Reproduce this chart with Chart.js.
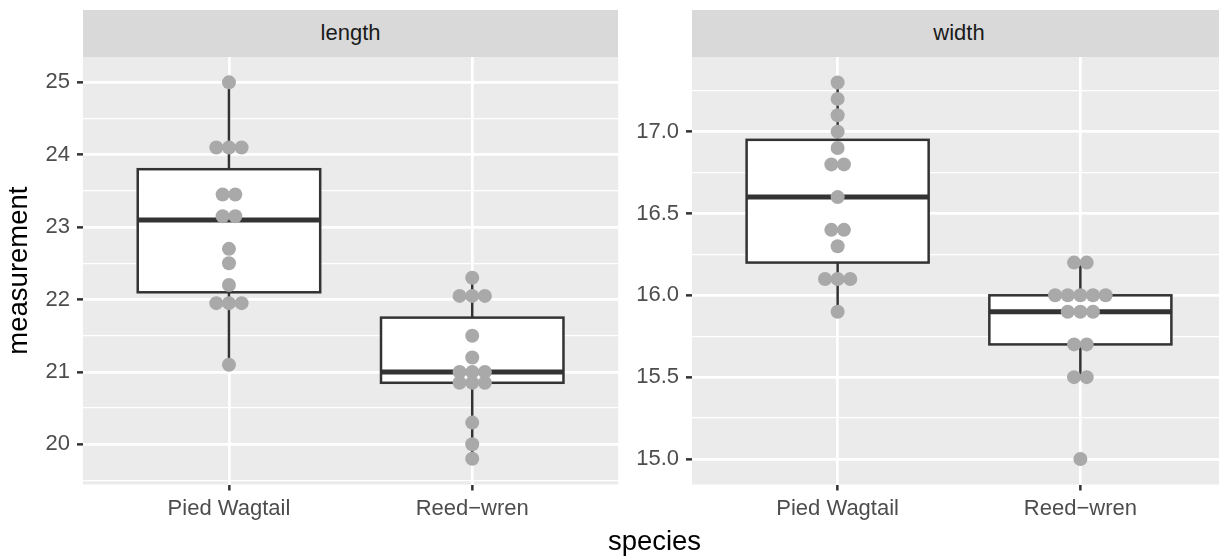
<!DOCTYPE html>
<html>
<head>
<meta charset="utf-8">
<script src="https://cdn.jsdelivr.net/npm/chart.js@4.4.1/dist/chart.umd.min.js"></script>
<style>
  html, body { margin: 0; padding: 0; background: #fff; }
  body { width: 1219px; height: 556px; overflow: hidden; position: relative; }
  canvas { position: absolute; top: 0; }
  .strip {
    position: absolute; top: 10px; height: 46.7px;
    font: 22px/46.7px "Liberation Sans", Arial, sans-serif;
    background: #D9D9D9; color: #1A1A1A; text-align: center;
  }
  .xtitle {
    position: absolute; top: 527px; left: 554.5px; width: 200px; text-align: center;
    font: 27.5px/27.5px "Liberation Sans", Arial, sans-serif; color: #000;
  }
</style>
</head>
<body>
<canvas id="lengthChart" width="640" height="556" style="left:0"></canvas>
<canvas id="widthChart" width="620" height="556" style="left:620px"></canvas>
<div class="strip" style="left:83px; width:535.2px">length</div>
<div class="strip" style="left:692px; width:534px">width</div>
<div class="xtitle">species</div>
<script>
  'use strict'

  // ---------------------------------------------------------------------------
  // DATA
  // ---------------------------------------------------------------------------

  const SPECIES = ['Pied Wagtail', 'Reed\u2212wren']

  // individual measurements (dotplot bin centres)
  const LENGTH_PIED = [25, 24.1, 24.1, 24.1, 23.45, 23.45, 23.15, 23.15, 22.7, 22.5, 22.2, 21.95, 21.95, 21.95, 21.1]
  const LENGTH_REED = [22.3, 22.05, 22.05, 22.05, 21.5, 21.2, 21.0, 21.0, 21.0, 20.85, 20.85, 20.85, 20.3, 20.0, 19.8]
  const WIDTH_PIED = [17.3, 17.2, 17.1, 17.0, 16.9, 16.8, 16.8, 16.6, 16.4, 16.4, 16.3, 16.1, 16.1, 16.1, 15.9]
  const WIDTH_REED = [16.2, 16.2, 16.0, 16.0, 16.0, 16.0, 16.0, 15.9, 15.9, 15.9, 15.7, 15.7, 15.5, 15.5, 15.0]

  // boxplot stats: [lower whisker, Q1, median, Q3, upper whisker]
  const LENGTH_BOX = [[21.1, 22.1, 23.1, 23.8, 25.0], [19.8, 20.85, 21.0, 21.75, 22.3]]
  const WIDTH_BOX = [[15.9, 16.2, 16.6, 16.95, 17.3], [15.5, 15.7, 15.9, 16.0, 16.2]]

  // axis ticks
  const LENGTH_MAJOR = [20, 21, 22, 23, 24, 25]
  const LENGTH_MINOR = [19.5, 20.5, 21.5, 22.5, 23.5, 24.5]
  const WIDTH_MAJOR = [15.0, 15.5, 16.0, 16.5, 17.0]
  const WIDTH_MINOR = [15.25, 15.75, 16.25, 16.75, 17.25]

  // ---------------------------------------------------------------------------
  // STYLE
  // ---------------------------------------------------------------------------

  const FONT = '"Liberation Sans", Arial, sans-serif'
  const DOT_COLOR = '#A9A9A9'
  const LINE_COLOR = '#333333'
  const BOX_WIDTH = 0.75
  const DOT_STEP = 0.052

  // ---------------------------------------------------------------------------
  // HELPERS
  // ---------------------------------------------------------------------------

  // centre-stacked dot positions, one stack per repeated value
  function dotPoints(values, cat) {
    const counts = {}
    for (const v of values) counts[v] = (counts[v] || 0) + 1
    const pts = []
    for (const key of Object.keys(counts)) {
      const n = counts[key]
      for (let k = 0; k < n; k++) {
        pts.push({ x: cat + (k - (n - 1) / 2) * DOT_STEP, y: Number(key) })
      }
    }
    return pts
  }

  const panelBg = {
    id: 'panelBg',
    beforeDraw(chart) {
      const { ctx, chartArea: a } = chart
      ctx.save()
      ctx.fillStyle = '#EBEBEB'
      ctx.fillRect(a.left, a.top, a.right - a.left, a.bottom - a.top)
      ctx.restore()
    },
  }

  function boxPlugin(stats) {
    return {
      id: 'boxes',
      beforeDatasetsDraw(chart) {
        const { ctx } = chart
        const xs = chart.scales.x
        const ys = chart.scales.y
        ctx.save()
        ctx.strokeStyle = LINE_COLOR
        stats.forEach((s, i) => {
          const cx = xs.getPixelForValue(i + 1)
          const x0 = xs.getPixelForValue(i + 1 - BOX_WIDTH / 2)
          const x1 = xs.getPixelForValue(i + 1 + BOX_WIDTH / 2)
          const [lo, q1, med, q3, hi] = s.map(v => ys.getPixelForValue(v))
          // whiskers
          ctx.lineWidth = 2.5
          ctx.beginPath()
          ctx.moveTo(cx, lo); ctx.lineTo(cx, q1)
          ctx.moveTo(cx, q3); ctx.lineTo(cx, hi)
          ctx.stroke()
          // box
          ctx.fillStyle = '#FFFFFF'
          ctx.fillRect(x0, q3, x1 - x0, q1 - q3)
          ctx.strokeRect(x0, q3, x1 - x0, q1 - q3)
          // median
          ctx.lineWidth = 5
          ctx.beginPath()
          ctx.moveTo(x0, med); ctx.lineTo(x1, med)
          ctx.stroke()
        })
        ctx.restore()
      },
    }
  }

  function makeChart(canvasId, opts) {
    const ticks = opts.major.concat(opts.minor).sort((a, b) => a - b)
    const isMajor = v => opts.major.includes(v)
    return new Chart(document.getElementById(canvasId), {
      type: 'scatter',
      data: {
        datasets: [{
          data: dotPoints(opts.pied, 1).concat(dotPoints(opts.reed, 2)),
          backgroundColor: DOT_COLOR,
          borderWidth: 0,
          pointRadius: 7,
          pointHoverRadius: 7,
        }],
      },
      options: {
        responsive: false,
        animation: false,
        events: [],
        layout: { padding: opts.padding },
        plugins: { legend: { display: false }, tooltip: { enabled: false } },
        scales: {
          x: {
            type: 'linear',
            min: 0.4,
            max: 2.6,
            afterBuildTicks: s => { s.ticks = [1, 2].map(v => ({ value: v })) },
            afterFit: s => { s.height = 71.5 },
            ticks: {
              callback: v => SPECIES[v - 1],
              autoSkip: false,
              maxRotation: 0,
              padding: 5,
              color: '#4D4D4D',
              font: { family: FONT, size: 22 },
            },
            grid: { color: '#FFFFFF', lineWidth: 2.7, tickLength: 6, tickColor: LINE_COLOR, tickWidth: 2.5 },
            border: { display: false },
          },
          y: {
            type: 'linear',
            min: opts.min,
            max: opts.max,
            afterBuildTicks: s => { s.ticks = ticks.map(v => ({ value: v })) },
            afterFit: s => { s.width = opts.axisWidth },
            ticks: {
              callback: v => isMajor(v) ? opts.fmt(v) : '',
              autoSkip: false,
              padding: 7,
              color: '#4D4D4D',
              font: { family: FONT, size: 22 },
            },
            grid: {
              color: '#FFFFFF',
              lineWidth: c => isMajor(c.tick.value) ? 2.7 : 1.3,
              tickLength: 6,
              tickColor: c => isMajor(c.tick.value) ? LINE_COLOR : 'rgba(0,0,0,0)',
              tickWidth: 2.5,
            },
            border: { display: false },
            title: opts.title
              ? { display: true, text: opts.title, color: '#000', font: { family: FONT, size: 27.5 }, padding: { top: 3, bottom: 0 } }
              : { display: false },
          },
        },
      },
      plugins: [panelBg, boxPlugin(opts.box)],
    })
  }

  makeChart('lengthChart', {
    pied: LENGTH_PIED, reed: LENGTH_REED, box: LENGTH_BOX,
    major: LENGTH_MAJOR, minor: LENGTH_MINOR,
    min: 19.445, max: 25.354,
    fmt: v => String(v),
    title: 'measurement',
    axisWidth: 83,
    padding: { top: 56.7, right: 21.8, bottom: 0, left: 0 },
  })

  makeChart('widthChart', {
    pied: WIDTH_PIED, reed: WIDTH_REED, box: WIDTH_BOX,
    major: WIDTH_MAJOR, minor: WIDTH_MINOR,
    min: 14.844, max: 17.458,
    fmt: v => v.toFixed(1),
    title: null,
    axisWidth: 72,
    padding: { top: 56.7, right: 14, bottom: 0, left: 0 },
  })
</script>
</body>
</html>
